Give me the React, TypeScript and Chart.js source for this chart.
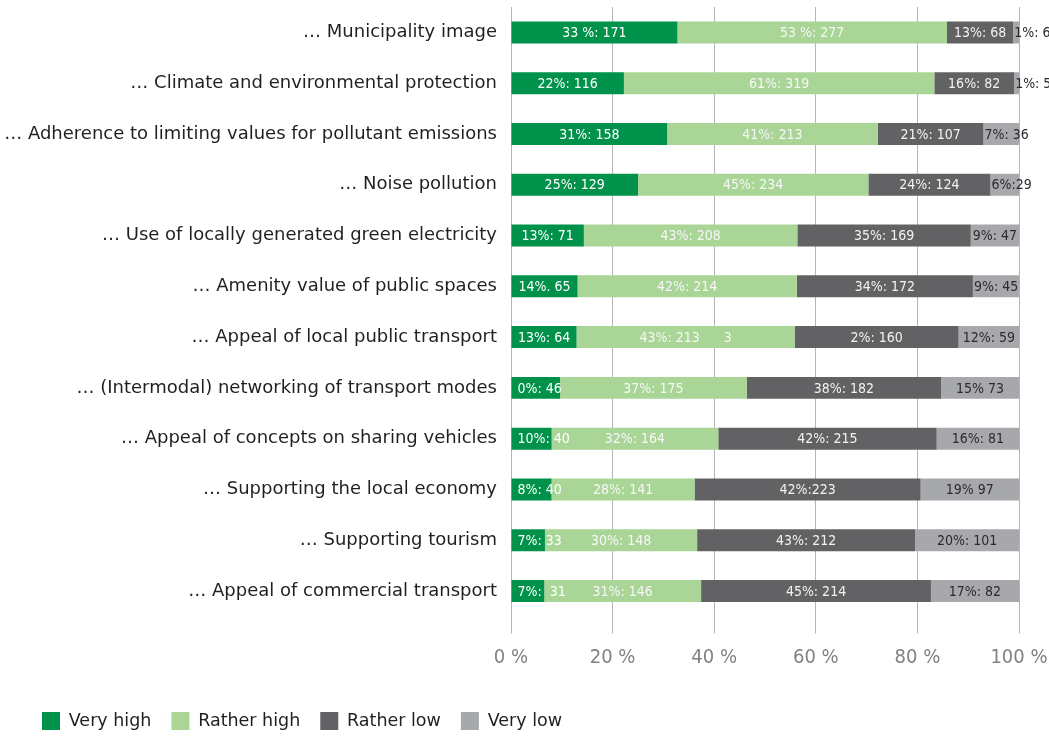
import React, { useEffect, useRef } from "react";
import { Chart, registerables } from "chart.js";

Chart.register(...registerables);

const categories: string[] = [
  "… Municipality image",
  "… Climate and environmental protection",
  "… Adherence to limiting values for pollutant emissions",
  "… Noise pollution",
  "… Use of locally generated green electricity",
  "… Amenity value of public spaces",
  "… Appeal of local public transport",
  "… (Intermodal) networking of transport modes",
  "… Appeal of concepts on sharing vehicles",
  "… Supporting the local economy",
  "… Supporting tourism",
  "… Appeal of commercial transport",
];

const seriesNames: string[] = ["Very high", "Rather high", "Rather low", "Very low"];

const veryHigh: number[] = [171, 116, 158, 129, 71, 65, 64, 46, 40, 40, 33, 31];
const ratherHigh: number[] = [277, 319, 213, 234, 208, 214, 213, 175, 164, 141, 148, 146];
const ratherLow: number[] = [68, 82, 107, 124, 169, 172, 160, 182, 215, 223, 212, 214];
const veryLow: number[] = [6, 5, 36, 29, 47, 45, 59, 73, 81, 97, 101, 82];

const veryHighLabels: string[] = ["33 %: 171", "22%: 116", "31%: 158", "25%: 129", "13%: 71", "14%. 65", "13%: 64", "0%: 46", "10%: 40", "8%: 40", "7%: 33", "7%:  31"];
const ratherHighLabels: string[] = ["53 %: 277", "61%: 319", "41%: 213", "45%: 234", "43%: 208", "42%: 214", "43%: 213      3", "37%: 175", "32%: 164", "28%: 141", "30%: 148", "31%: 146"];
const ratherLowLabels: string[] = ["13%: 68", "16%: 82", "21%: 107", "24%: 124", "35%: 169", "34%: 172", "2%: 160", "38%: 182", "42%: 215", "42%:223", "43%: 212", "45%: 214"];
const veryLowLabels: string[] = ["1%: 6", "1%: 5", "7%: 36", "6%:29", "9%: 47", "9%: 45", "12%: 59", "15% 73", "16%: 81", "19% 97", "20%: 101", "17%: 82"];

const xTicks: number[] = [0, 20, 40, 60, 80, 100];

const colors = ["#00924a", "#a9d596", "#626264", "#a7a8ab"];
const labelColors = ["#ffffff", "#f7f7f7", "#f2f2f2", "#2b2b2b"];
const labelInset = [6, 6, 6, 1];

const NARROW = "'DejaVu Sans Condensed', 'Liberation Sans Narrow', sans-serif";
const MAIN = "'DejaVu Sans', sans-serif";

export default function App() {
  const ref = useRef<HTMLCanvasElement | null>(null);

  useEffect(() => {
    if (!ref.current) return;
    const series = [veryHigh, ratherHigh, ratherLow, veryLow];
    const totals = categories.map((_, i) => series.reduce((s, arr) => s + arr[i], 0));
    const segLabels = [veryHighLabels, ratherHighLabels, ratherLowLabels, veryLowLabels];

    const labelPlugin = {
      id: "segLabels",
      afterDatasetsDraw(chart: any) {
        const ctx = chart.ctx;
        ctx.save();
        ctx.font = `14px ${NARROW}`;
        ctx.textBaseline = "middle";
        ctx.textAlign = "center";
        chart.data.datasets.forEach((_ds: any, di: number) => {
          const meta = chart.getDatasetMeta(di);
          meta.data.forEach((bar: any, i: number) => {
            const text = segLabels[di][i];
            const p = bar.getProps(["x", "y", "base"], true);
            const left = Math.min(p.x, p.base);
            const right = Math.max(p.x, p.base);
            const w = ctx.measureText(text).width;
            const cx = Math.max((left + right) / 2, left + labelInset[di] + w / 2);
            ctx.fillStyle = labelColors[di];
            ctx.fillText(text, cx, p.y + 1);
          });
        });
        ctx.restore();
      },
    };

    const chart = new Chart(ref.current, {
      type: "bar",
      data: {
        labels: categories,
        datasets: series.map((arr, si) => ({
          label: seriesNames[si],
          data: arr.map((v, i) => (v / totals[i]) * 100),
          backgroundColor: colors[si],
          borderWidth: 0,
          barPercentage: 0.433,
          categoryPercentage: 1,
        })),
      },
      options: {
        indexAxis: "y",
        animation: false,
        responsive: true,
        maintainAspectRatio: false,
        layout: { padding: { left: 22, right: 30, top: 7, bottom: -2 } },
        plugins: {
          legend: {
            position: "bottom",
            align: "start",
            labels: {
              boxWidth: 18,
              boxHeight: 18,
              padding: 20,
              color: "#231f20",
              font: { family: MAIN, size: 17.5 },
            },
          },
          tooltip: { enabled: false },
        },
        scales: {
          x: {
            type: "linear",
            stacked: true,
            min: 0,
            max: 100,
            afterBuildTicks: (scale: any) => {
              scale.ticks = xTicks.map((v) => ({ value: v }));
            },
            afterFit: (scale: any) => {
              scale.height = 75.6;
              scale.paddingLeft = 0;
              scale.paddingRight = 0;
            },
            ticks: {
              callback: (v: any) => `${v} %`,
              color: "#808285",
              font: { family: NARROW, size: 20 },
              padding: 12,
              maxRotation: 0,
            },
            grid: {
              color: "#b5b5b7",
              lineWidth: 1,
              drawTicks: true,
              tickLength: 17,
              tickColor: "#b5b5b7",
            },
            border: { display: false },
          },
          y: {
            type: "category",
            stacked: true,
            afterFit: (scale: any) => {
              scale.width = 489;
              scale.paddingTop = 0;
              scale.paddingBottom = 0;
              scale._computeLabelArea = () => undefined;
            },
            ticks: {
              color: "#231f20",
              font: { family: MAIN, size: 18 },
              padding: 14,
              autoSkip: false,
            },
            grid: { display: false, drawTicks: false },
            border: { display: false },
          },
        },
      },
      plugins: [labelPlugin],
    });
    return () => chart.destroy();
  }, []);

  return (
    <div style={{ position: "absolute", left: 0, top: 0, width: 1049, height: 738 }}>
      <canvas ref={ref} />
    </div>
  );
}
